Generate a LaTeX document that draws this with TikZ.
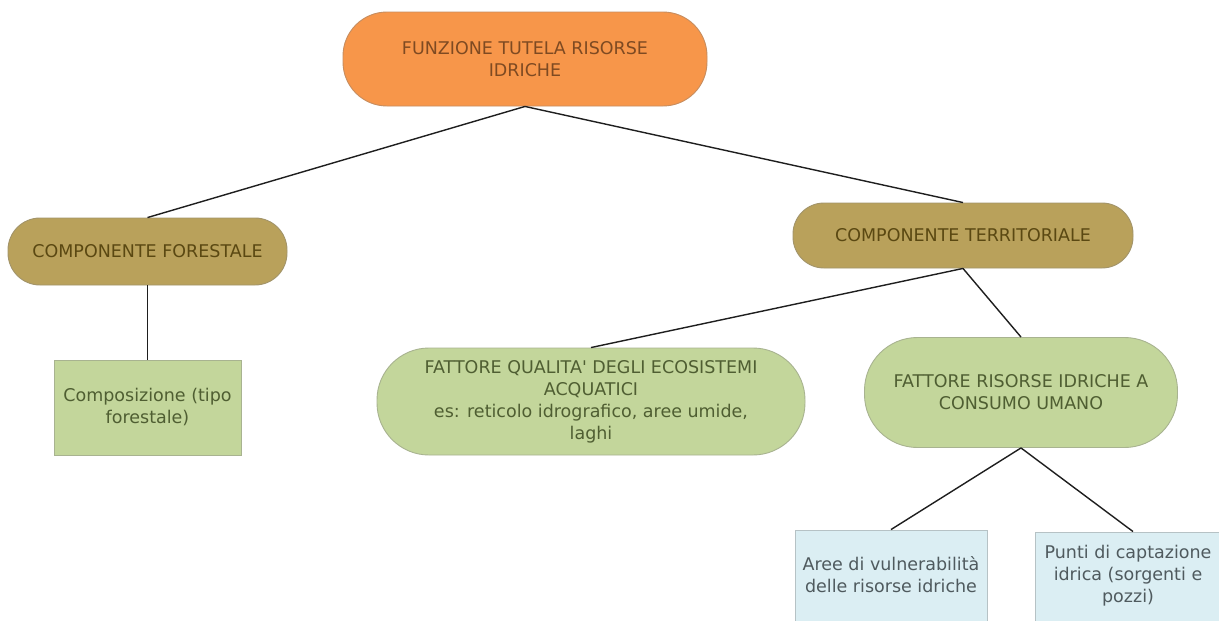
\documentclass[tikz,border=0pt]{standalone}
\usepackage{fontspec}
\setmainfont{DejaVu Sans}
\definecolor{orangefill}{HTML}{F7964A}
\definecolor{orangetext}{HTML}{7E4A22}
\definecolor{tanfill}{HTML}{B9A15B}
\definecolor{tantext}{HTML}{5A4812}
\definecolor{greenfill}{HTML}{C3D69B}
\definecolor{greentext}{HTML}{4F5E32}
\definecolor{bluefill}{HTML}{DBEEF3}
\definecolor{bluetext}{HTML}{4F5A5E}
\definecolor{linkcol}{HTML}{1E1E1E}
\tikzset{
  labelfont/.style={font=\fontsize{17.5}{22}\selectfont},
  base/.style={draw=#1!60!gray, line width=0.9pt, inner sep=0pt, align=center, labelfont},
  pillorange/.style={base=orangefill, fill=orangefill, text=orangetext},
  pilltan/.style={base=tanfill, fill=tanfill, text=tantext},
  pillgreen/.style={base=greenfill, fill=greenfill, text=greentext},
  boxgreen/.style={base=greenfill, fill=greenfill, text=greentext},
  boxblue/.style={base=bluefill, fill=bluefill, text=bluetext},
  bluelabel/.style={text=bluetext, align=center, labelfont},
  link/.style={draw=linkcol, line width=1.4pt}
}
\begin{document}
\begin{tikzpicture}[x=1pt,y=-1pt]
\useasboundingbox (0,0) rectangle (1219,621);
\clip (0,0) rectangle (1219,621);
\fill[white] (0,0) rectangle (1219,621);

% top level
\node[pillorange, minimum width=364pt, minimum height=94pt, rounded corners=44pt]
  (root) at (525,59) {FUNZIONE TUTELA RISORSE\\IDRICHE};

% second level
\node[pilltan, minimum width=279pt, minimum height=67pt, rounded corners=32pt]
  (fore) at (147.5,251.5) {COMPONENTE FORESTALE};
\node[pilltan, minimum width=340pt, minimum height=65pt, rounded corners=31pt]
  (terr) at (963,235.5) {COMPONENTE TERRITORIALE};

% third level
\node[boxgreen, minimum width=187pt, minimum height=95pt]
  (comp) at (147.5,407.5) {Composizione (tipo\\forestale)};
\node[pillgreen, minimum width=428pt, minimum height=107pt, rounded corners=52pt]
  (qual) at (591,401.5) {FATTORE QUALITA\textquotesingle{} DEGLI ECOSISTEMI\\ACQUATICI\\es: reticolo idrografico, aree umide,\\laghi};
\node[pillgreen, minimum width=313pt, minimum height=110pt, rounded corners=53pt]
  (risc) at (1021,392.5) {FATTORE RISORSE IDRICHE A\\CONSUMO UMANO};

% fourth level (boxes run past the lower and right edges)
\node[boxblue, minimum width=192pt, minimum height=130pt]
  (aree) at (891,595) {};
\node[bluelabel] (areet) at (891,575) {Aree di vulnerabilità\\delle risorse idriche};
\node[boxblue, minimum width=196pt, minimum height=130pt]
  (punti) at (1133,597) {};
\node[bluelabel] (puntit) at (1128,576) {Punti di captazione\\idrica (sorgenti e\\pozzi)};

% connectors
\draw[link] (root.south) -- (fore.north);
\draw[link] (root.south) -- (terr.north);
\draw[link] (fore.south) -- (comp.north);
\draw[link] (terr.south) -- (qual.north);
\draw[link] (terr.south) -- (risc.north);
\draw[link] (risc.south) -- (aree.north);
\draw[link] (risc.south) -- (punti.north);
\end{tikzpicture}
\end{document}
